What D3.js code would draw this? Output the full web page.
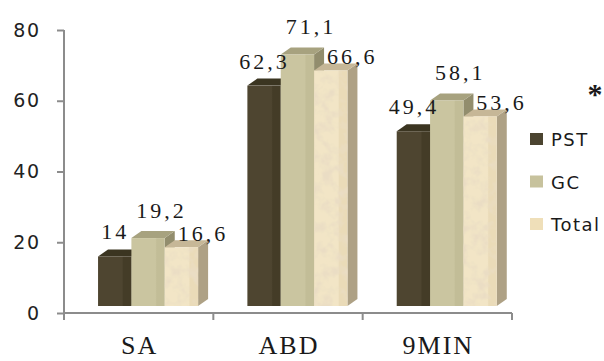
<!DOCTYPE html>
<html>
<head>
<meta charset="utf-8">
<script src="https://cdn.jsdelivr.net/npm/d3@7/dist/d3.min.js"></script>
<style>
  html, body { margin: 0; padding: 0; background: #ffffff; }
  svg { display: block; }
</style>
</head>
<body>
<div id="chart"></div>
<script>
// Groups along the x axis and the three series drawn in each group
const categories = ["SA", "ABD", "9MIN"];
const seriesNames = ["PST", "GC", "Total"];
const pstValues = [14, 62.3, 49.4];
const gcValues = [19.2, 71.1, 58.1];
const totalValues = [16.6, 66.6, 53.6];
const yTicks = [0, 20, 40, 60, 80];

const seriesValues = { PST: pstValues, GC: gcValues, Total: totalValues };

const W = 604, H = 361;
const plot = { left: 64, right: 512, top: 30, bottom: 313 };

// Face colours for the 3D columns
const faceStyle = {
  PST:   { front: "#4e4530", frontDark: "#443c27", top: "#3b3521", side: "#332d1b", legend: "#4b4430" },
  GC:    { front: "#cac5a0", frontDark: "#c2bd97", top: "#a7a27f", side: "#928d6d", legend: "#c7c29d" },
  Total: { front: "#f2e5c6", frontDark: "#eadbb8", top: "#c6b797", side: "#aea185", legend: "#efdfb9" }
};
// Value-label placement relative to the top of each column front
const labelShift = { PST: { dx: -1, dy: -17 }, GC: { dx: 12, dy: -20 }, Total: { dx: 20, dy: -6 } };

const depthX = 10, depthY = 7;   // receding depth of each column
const frontLift = 7;             // the column fronts sit slightly above the axis line

const svg = d3.select("#chart").append("svg")
  .attr("width", W).attr("height", H)
  .attr("viewBox", `0 0 ${W} ${H}`);

const defs = svg.append("defs");

// paper-like grain for the Total columns
const paper = defs.append("filter").attr("id", "paper")
  .attr("x", "0").attr("y", "0").attr("width", "1").attr("height", "1");
paper.append("feTurbulence").attr("type", "fractalNoise")
  .attr("baseFrequency", "0.09").attr("numOctaves", 3).attr("seed", 7).attr("result", "noise");
paper.append("feColorMatrix").attr("in", "noise").attr("type", "matrix")
  .attr("values", "0 0 0 0 0.82  0 0 0 0 0.72  0 0 0 0 0.55  3 0 0 0 -1.3")
  .attr("result", "spots");
paper.append("feComposite").attr("in", "spots").attr("in2", "SourceGraphic")
  .attr("operator", "in").attr("result", "spotsIn");
const merge = paper.append("feMerge");
merge.append("feMergeNode").attr("in", "SourceGraphic");
merge.append("feMergeNode").attr("in", "spotsIn");

// gentle horizontal shading on the column fronts
seriesNames.forEach(s => {
  const g = defs.append("linearGradient").attr("id", "grad-" + s)
    .attr("x1", "0").attr("x2", "1").attr("y1", "0").attr("y2", "0");
  g.append("stop").attr("offset", "0").attr("stop-color", faceStyle[s].front);
  g.append("stop").attr("offset", "0.72").attr("stop-color", faceStyle[s].front);
  g.append("stop").attr("offset", "0.76").attr("stop-color", faceStyle[s].frontDark);
  g.append("stop").attr("offset", "1").attr("stop-color", faceStyle[s].frontDark);
});

const y = d3.scaleLinear().domain([0, 80]).range([plot.bottom, plot.top]);
const x0 = d3.scaleBand().domain(categories).range([plot.left, plot.right]).padding(0);
const bw = x0.bandwidth();
const x1 = d3.scaleBand().domain(seriesNames).range([bw * 0.228, bw * 0.898]).padding(0);
const cw = x1.bandwidth();

const axisColor = "#8c8c8c";

// y axis
const yAxis = svg.append("g").attr("transform", `translate(${plot.left},0)`)
  .call(d3.axisLeft(y).tickValues(yTicks).tickSize(7).tickPadding(18).tickFormat(d3.format("d")));
yAxis.select(".domain").attr("stroke", axisColor).attr("stroke-width", 2)
  .attr("d", `M0,${plot.top}V${plot.bottom + 7}`);
yAxis.selectAll(".tick line").attr("stroke", axisColor).attr("stroke-width", 2);
yAxis.selectAll(".tick text")
  .attr("font-family", "'DejaVu Sans', Verdana, sans-serif")
  .attr("font-size", 19).attr("letter-spacing", 1.5).attr("dx", 1.5)
  .attr("fill", "#222222");

// x axis with boundary ticks between the groups
const xAxis = svg.append("g");
xAxis.append("line")
  .attr("x1", plot.left).attr("x2", plot.right)
  .attr("y1", plot.bottom).attr("y2", plot.bottom)
  .attr("stroke", axisColor).attr("stroke-width", 2);
xAxis.selectAll("line.sep").data(categories).join("line").attr("class", "sep")
  .attr("x1", d => x0(d) + bw).attr("x2", d => x0(d) + bw)
  .attr("y1", plot.bottom).attr("y2", plot.bottom + 7)
  .attr("stroke", axisColor).attr("stroke-width", 2);
xAxis.selectAll("text").data(categories).join("text")
  .attr("x", d => x0(d) + bw / 2 + 1)
  .attr("y", 354)
  .attr("text-anchor", "middle")
  .attr("font-family", "'Liberation Serif', 'Times New Roman', serif")
  .attr("font-size", 26).attr("letter-spacing", 2)
  .attr("fill", "#1a1a1a")
  .text(d => d);

// columns
const rows = [];
categories.forEach((c, i) => {
  seriesNames.forEach(s => rows.push({ cat: c, series: s, value: seriesValues[s][i] }));
});

const bars = svg.append("g");
rows.forEach(r => {
  const xl = x0(r.cat) + x1(r.series);
  const xr = xl + cw;
  const yt = y(r.value) - frontLift;
  const yb = y(0) - frontLift;
  const st = faceStyle[r.series];
  const g = bars.append("g");
  // side face
  g.append("path")
    .attr("d", `M${xr},${yt}L${xr + depthX},${yt - depthY}L${xr + depthX},${yb - depthY}L${xr},${yb}Z`)
    .attr("fill", st.side);
  // top face
  g.append("path")
    .attr("d", `M${xl},${yt}L${xl + depthX},${yt - depthY}L${xr + depthX},${yt - depthY}L${xr},${yt}Z`)
    .attr("fill", st.top);
  // front face
  const front = g.append("rect")
    .attr("x", xl).attr("y", yt).attr("width", cw).attr("height", yb - yt)
    .attr("fill", `url(#grad-${r.series})`);
  if (r.series === "Total") front.attr("filter", "url(#paper)");
});

// value labels
svg.append("g").selectAll("text").data(rows).join("text")
  .attr("x", d => x0(d.cat) + x1(d.series) + cw / 2 + labelShift[d.series].dx + 1.5)
  .attr("y", d => y(d.value) - frontLift + labelShift[d.series].dy)
  .attr("text-anchor", "middle")
  .attr("font-family", "'Liberation Serif', 'Times New Roman', serif")
  .attr("font-size", 22).attr("letter-spacing", 3)
  .attr("fill", "#1a1a1a")
  .text(d => String(d.value).replace(".", ","));

// significance mark
svg.append("text")
  .attr("x", 595).attr("y", 104)
  .attr("text-anchor", "middle")
  .attr("font-family", "'Liberation Serif', 'Times New Roman', serif")
  .attr("font-size", 30).attr("font-weight", "bold").attr("fill", "#1a1a1a")
  .text("*");

// legend
const legend = svg.append("g").attr("transform", "translate(530,133)");
const li = legend.selectAll("g").data(seriesNames).join("g")
  .attr("transform", (d, i) => `translate(0,${i * 42.5})`);
li.append("rect").attr("width", 13).attr("height", 12)
  .attr("fill", d => faceStyle[d].legend);
li.append("text").attr("x", 21).attr("y", 13)
  .attr("font-family", "'DejaVu Sans', Verdana, sans-serif")
  .attr("font-size", 18).attr("letter-spacing", 1.5)
  .attr("fill", "#1a1a1a")
  .text(d => d);
</script>
</body>
</html>
